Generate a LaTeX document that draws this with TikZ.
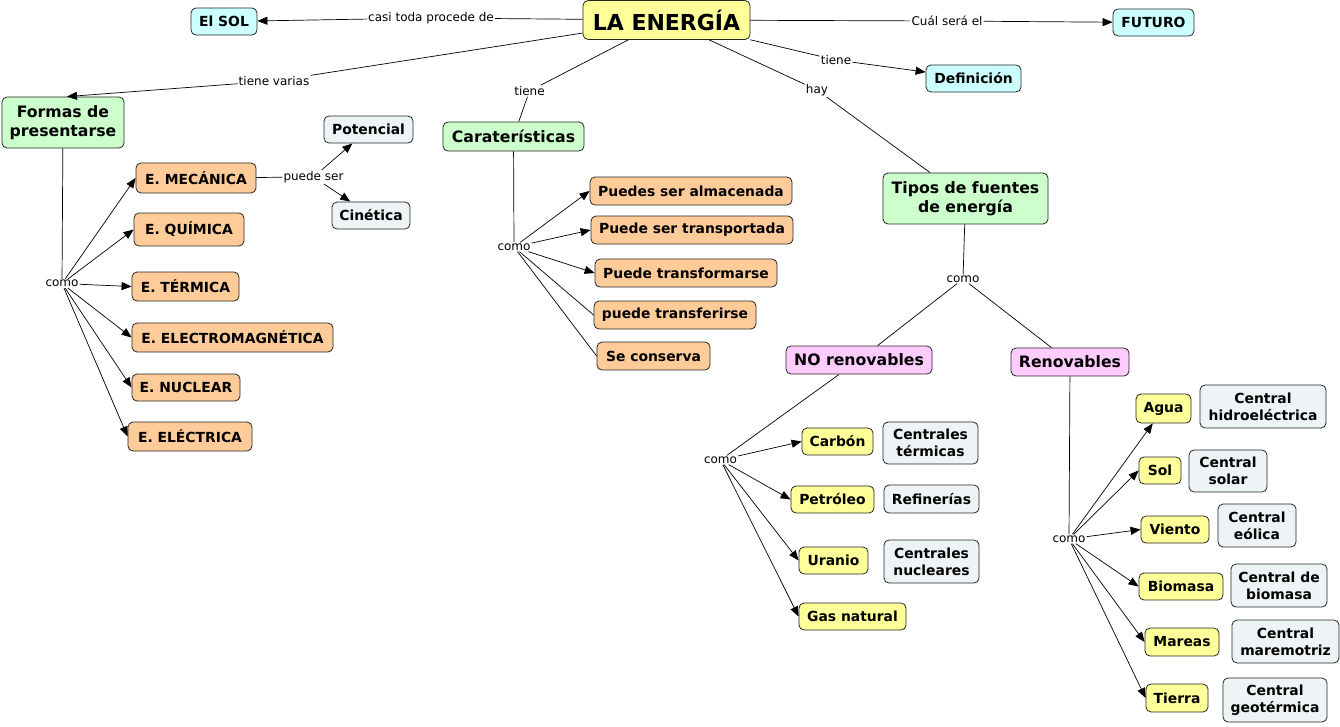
\documentclass[tikz,border=0pt]{standalone}
\usepackage{fontspec}
\setmainfont{DejaVu Sans}
\usetikzlibrary{arrows.meta}
\definecolor{cyanF}{HTML}{CCFFFF}
\definecolor{greenF}{HTML}{CCFFCC}
\definecolor{orangeF}{HTML}{FFCC99}
\definecolor{yellowF}{HTML}{FFFF99}
\definecolor{pinkF}{HTML}{FFCCFF}
\definecolor{greyF}{HTML}{EEF3F5}
\tikzset{
  box/.style={draw=black!85, rounded corners=5pt, line width=0.8pt, align=center, inner sep=1pt,
    font=\bfseries\fontsize{13.9}{17}\selectfont},
  big/.style={font=\bfseries\fontsize{15.7}{19}\selectfont},
  cy/.style={box, fill=cyanF},
  gr/.style={box, big, fill=greenF},
  ora/.style={box, fill=orangeF},
  yel/.style={box, fill=yellowF},
  pk/.style={box, big, fill=pinkF},
  gy/.style={box, fill=greyF},
  lbl/.style={fill=white, inner sep=1pt, font=\fontsize{12}{14}\selectfont},
  con/.style={line width=0.7pt, draw=black},
  arr/.style={con, -{Triangle[length=10pt,width=8pt]}},
  sz/.style n args={2}{minimum width=#1pt, minimum height=#2pt}
}
\begin{document}
\begin{tikzpicture}[x=1pt,y=-1pt]
\useasboundingbox (0,0) rectangle (1340,726);
% main
\node[box, fill=yellowF, sz={167}{39}, font=\bfseries\fontsize{22}{26}\selectfont] (energia) at (666.5,20) {LA ENERGÍA};
\node[cy, sz={66}{27}] (sol) at (224,21.5) {El SOL};
\node[cy, sz={81}{27}] (futuro) at (1153.5,22.5) {FUTURO};
\node[cy, sz={95}{27}] (defin) at (973.5,78.5) {Definición};
\node[gr, sz={122}{51}] (formas) at (63,122.5) {Formas de\\presentarse};
\node[gr, sz={141}{29}] (caract) at (513.5,136.5) {Caraterísticas};
\node[gr, sz={165}{51}] (tipos) at (965.5,198.5) {Tipos de fuentes\\de energía};
% formas
\node[gy, sz={89}{27}] (potencial) at (368.5,129.5) {Potencial};
\node[gy, sz={78}{27}] (cinetica) at (371,215.5) {Cinética};
\node[ora, sz={120}{30}] (mec) at (196,178) {E. MECÁNICA};
\node[ora, sz={110}{33}] (quim) at (189,229.5) {E. QUÍMICA};
\node[ora, sz={107}{29}] (term) at (185.5,286.5) {E. TÉRMICA};
\node[ora, sz={201}{29}] (electro) at (232.5,337.5) {E. ELECTROMAGNÉTICA};
\node[ora, sz={108}{27}] (nuclear) at (186,387.5) {E. NUCLEAR};
\node[ora, sz={124}{29}] (electrica) at (190,436.5) {E. ELÉCTRICA};
% caracteristicas
\node[ora, sz={202}{28}] (alm) at (691,191) {Puedes ser almacenada};
\node[ora, sz={202}{28}] (transp) at (692,230) {Puede ser transportada};
\node[ora, sz={182}{28}] (transf) at (686,273) {Puede transformarse};
\node[ora, sz={162}{28}] (transfe) at (675,315) {puede transferirse};
\node[ora, sz={113}{28}] (conserva) at (653.5,356) {Se conserva};
% tipos
\node[pk, sz={146}{28}] (norenov) at (859,360) {NO renovables};
\node[pk, sz={118}{28}] (renov) at (1070,362) {Renovables};
\node[yel, sz={71}{27}] (carbon) at (837.5,441.5) {Carbón};
\node[gy, sz={95}{42}] (ctermicas) at (930.5,443) {Centrales\\térmicas};
\node[yel, sz={83}{27}] (petroleo) at (832.5,499.5) {Petróleo};
\node[gy, sz={95}{28}] (refinerias) at (931.5,499) {Refinerías};
\node[yel, sz={69}{27}] (uranio) at (833.5,560.5) {Uranio};
\node[gy, sz={95}{43}] (cnucleares) at (931.5,561.5) {Centrales\\nucleares};
\node[yel, sz={107}{27}] (gas) at (852.5,616.5) {Gas natural};
\node[yel, sz={55}{29}] (agua) at (1163.5,408.5) {Agua};
\node[gy, sz={126}{43}] (chidro) at (1263,406.5) {Central\\hidroeléctrica};
\node[yel, sz={42}{27}] (solr) at (1160,470.5) {Sol};
\node[gy, sz={78}{42}] (csolar) at (1228,471) {Central\\solar};
\node[yel, sz={68}{27}] (viento) at (1175,529.5) {Viento};
\node[gy, sz={78}{43}] (ceolica) at (1257,525.5) {Central\\eólica};
\node[yel, sz={84}{27}] (biomasa) at (1181,586.5) {Biomasa};
\node[gy, sz={96}{43}] (cbiomasa) at (1279,585.5) {Central de\\biomasa};
\node[yel, sz={74}{28}] (mareas) at (1182,642) {Mareas};
\node[gy, sz={107}{43}] (cmaremotriz) at (1285.5,641.5) {Central\\maremotriz};
\node[yel, sz={62}{28}] (tierra) at (1177,698) {Tierra};
\node[gy, sz={104}{44}] (cgeotermica) at (1275,700) {Central\\geotérmica};
% labels
\node[lbl] (lsol) at (431,18) {casi toda procede de};
\node[lbl] (lfut) at (947,21) {Cuál será el};
\node[lbl] (ldef) at (836,60) {tiene};
\node[lbl] (lformas) at (274,81) {tiene varias};
\node[lbl] (lcar) at (529.5,91) {tiene};
\node[lbl] (lhay) at (817,90) {hay};
\node[lbl] (lcomo1) at (62,283.5) {como};
\node[lbl] (lpuede) at (313.5,177) {puede ser};
\node[lbl] (lcomo2) at (514,247) {como};
\node[lbl] (lcomo3) at (963,279) {como};
\node[lbl] (lcomo4) at (720.5,460) {como};
\node[lbl] (lcomo5) at (1069,539) {como};
% connectors from LA ENERGIA
\draw[con] (energia) -- (lsol); \draw[arr] (lsol) -- (sol);
\draw[con] (energia) -- (lfut); \draw[arr] (lfut) -- (futuro);
\draw[con] (energia) -- (ldef); \draw[arr] (ldef) -- (defin);
\draw[con] (energia) -- (lformas); \draw[arr] (lformas) -- ([xshift=4pt]formas.north);
\draw[con] (energia) -- (lcar); \draw[con] (lcar) -- (caract);
\draw[con] (energia) -- (lhay); \draw[con] (lhay) -- (tipos);
% formas
\draw[con] (formas) -- (lcomo1);
\foreach \t in {mec,quim,term,electro,nuclear,electrica} \draw[arr] (lcomo1) -- (\t.west);
\draw[con] (mec) -- (lpuede);
\draw[arr] (lpuede) -- (potencial);
\draw[arr] (lpuede) -- (cinetica);
% caracteristicas
\draw[con] (caract) -- (lcomo2);
\foreach \t in {alm,transp,transf} \draw[arr] (lcomo2) -- (\t.west);
\foreach \t in {transfe,conserva} \draw[con] (lcomo2) -- (\t.west);
% tipos
\draw[con] (tipos) -- (lcomo3);
\draw[con] (lcomo3) -- (norenov);
\draw[con] (lcomo3) -- (renov);
\draw[con] (norenov) -- (lcomo4);
\foreach \t in {carbon,petroleo,uranio,gas} \draw[arr] (lcomo4) -- (\t.west);
\draw[con] (renov) -- (lcomo5);
\draw[arr] (lcomo5) -- (agua);
\foreach \t in {solr,viento,biomasa,mareas,tierra} \draw[arr] (lcomo5) -- (\t.west);
\end{tikzpicture}
\end{document}
